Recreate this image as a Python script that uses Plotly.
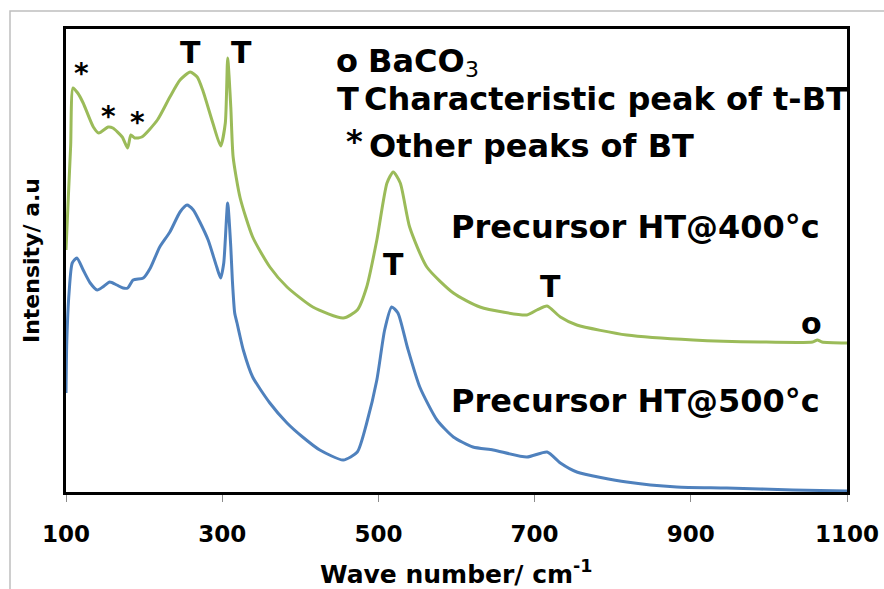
import plotly.graph_objects as go

# Raman spectra of BaTiO3 precursors after heat treatment (arbitrary intensity units)
wn_400 = [100, 103, 106, 109, 115, 122, 135, 142, 154, 160, 172, 179, 183, 188, 197,
          217, 233, 246, 259, 268, 275, 288, 298, 304, 307, 311, 314, 323, 339, 361,
          383, 416, 455, 473, 485, 498, 511, 519, 528, 540, 562, 596, 630, 690, 703,
          716, 733, 754, 818, 903, 989, 1056, 1062, 1068, 1100]
int_400 = [242, 295, 347, 404, 399, 389, 365, 359, 365, 364, 355, 344, 357, 354, 355,
           372, 395, 412, 420, 415, 402, 369, 346, 369, 434, 385, 335, 294, 255, 225,
           205, 185, 174, 182, 205, 252, 309, 320, 309, 265, 225, 199, 185, 177, 182,
           186, 175, 167, 157, 152, 150, 150, 152, 150, 149]

wn_500 = [100, 101, 104, 108, 114, 122, 131, 140, 147, 156, 165, 173, 179, 186, 199,
          208, 220, 233, 246, 255, 263, 272, 282, 293, 298, 302, 307, 311, 313, 316,
          319, 323, 327, 339, 361, 383, 403, 425, 455, 473, 485, 498, 508, 517, 525,
          537, 553, 575, 596, 621, 647, 690, 716, 733, 754, 818, 882, 946, 1031, 1100]
int_500 = [99, 150, 200, 229, 234, 222, 209, 202, 205, 210, 207, 204, 204, 212, 214,
           224, 245, 260, 280, 287, 282, 269, 252, 225, 214, 229, 289, 245, 212, 179,
           169, 155, 142, 115, 89, 69, 55, 42, 32, 40, 69, 112, 162, 185, 179,
           145, 105, 72, 55, 45, 42, 35, 40, 29, 20, 10, 5, 4, 2, 1]

x_ticks = [100, 300, 500, 700, 900, 1100]

# peak markers: (wave number, intensity, symbol)
peak_marks = [(120, 425, "*"), (154, 382, "*"), (191, 376, "*"),
              (259, 440, "T"), (325, 440, "T"),
              (519, 228, "T"), (720, 206, "T"), (1055, 169, "o")]

GREEN = "#9BBB59"
BLUE = "#4F81BD"
FONT = "DejaVu Sans"

W, H = 884, 589
L, R, T, B = 66, 847, 29, 492


def px(x):
    return (x - L) / (R - L)


def py(y):
    return (B - y) / (B - T)


fig = go.Figure()
fig.add_trace(go.Scatter(x=wn_400, y=int_400, mode="lines",
                         line=dict(color=GREEN, width=3, shape="spline", smoothing=0.6),
                         name="Precursor HT@400°c"))
fig.add_trace(go.Scatter(x=wn_500, y=int_500, mode="lines",
                         line=dict(color=BLUE, width=3, shape="spline", smoothing=0.6),
                         name="Precursor HT@500°c"))

ann = []
for x, y, s in peak_marks:
    dy = 6 if s == "*" else 0
    ann.append(dict(x=x, y=y - dy, xref="x", yref="y", text=s, showarrow=False,
                    font=dict(family=FONT, size=28 if s == "*" else 30, color="black",
                              weight="bold"),
                    xanchor="center", yanchor="middle"))

bold = dict(family=FONT, size=32, color="black", weight="bold")

# key to the peak symbols
key = [
    dict(x=px(347), y=py(61), text="o", xanchor="center", yanchor="middle"),
    dict(x=px(348), y=py(99), text="T", xanchor="center", yanchor="middle"),
    dict(x=px(354), y=py(141), text="*", xanchor="center", yanchor="middle"),
    dict(x=px(366), y=py(61), text="BaCO", xanchor="left", yanchor="middle"),
    dict(x=px(362), y=py(99), text="Characteristic peak of t-BT", xanchor="left", yanchor="middle"),
    dict(x=px(367), y=py(146), text="Other peaks of BT", xanchor="left", yanchor="middle"),
    dict(x=px(449), y=py(227), text="Precursor HT@400°c", xanchor="left", yanchor="middle"),
    dict(x=px(449), y=py(401), text="Precursor HT@500°c", xanchor="left", yanchor="middle"),
]
for a in key:
    a.update(xref="paper", yref="paper", showarrow=False, font=bold)
ann += key

# subscript of the carbonate formula
ann.append(dict(x=px(472), y=py(70), xref="paper", yref="paper", showarrow=False,
                text="3", xanchor="center", yanchor="middle",
                font=dict(family=FONT, size=22, color="black", weight=500)))

# axis titles
ann.append(dict(x=px(456), y=py(591), xref="paper", yref="paper", showarrow=False,
                text="Wave number/ cm<sup>-1</sup>", xanchor="center", yanchor="bottom",
                font=dict(family=FONT, size=25, color="black", weight="bold")))
ann.append(dict(x=px(31), y=py(261), xref="paper", yref="paper", showarrow=False,
                text="Intensity/ a.u", textangle=-90, xanchor="center", yanchor="middle",
                font=dict(family=FONT, size=22, color="black", weight="bold")))

fig.update_layout(
    template="none",
    width=W, height=H, autosize=False,
    margin=dict(l=L, r=W - R, t=T, b=H - B, pad=0),
    paper_bgcolor="white", plot_bgcolor="white",
    showlegend=False,
    annotations=ann,
    shapes=[dict(type="rect", xref="paper", yref="paper",
                 x0=px(10), x1=px(910), y0=py(620), y1=py(11),
                 line=dict(color="#BFBFBF", width=1.5), layer="below")],
)
fig.update_xaxes(range=[100, 1100], tickvals=x_ticks, ticktext=[str(v) for v in x_ticks],
                 automargin=False, showgrid=False, zeroline=False,
                 showline=True, linecolor="black", linewidth=3, mirror=True,
                 ticks="outside", ticklen=7, tickwidth=1, tickcolor="#8C8C8C",
                 tickfont=dict(family=FONT, size=23, color="black", weight="bold"),
                 ticklabelstandoff=12)
fig.update_yaxes(range=[0, 463], automargin=False, showticklabels=False, showgrid=False,
                 zeroline=False, showline=True, linecolor="black", linewidth=3, mirror=True,
                 ticks="")

fig.write_html("out.html")
